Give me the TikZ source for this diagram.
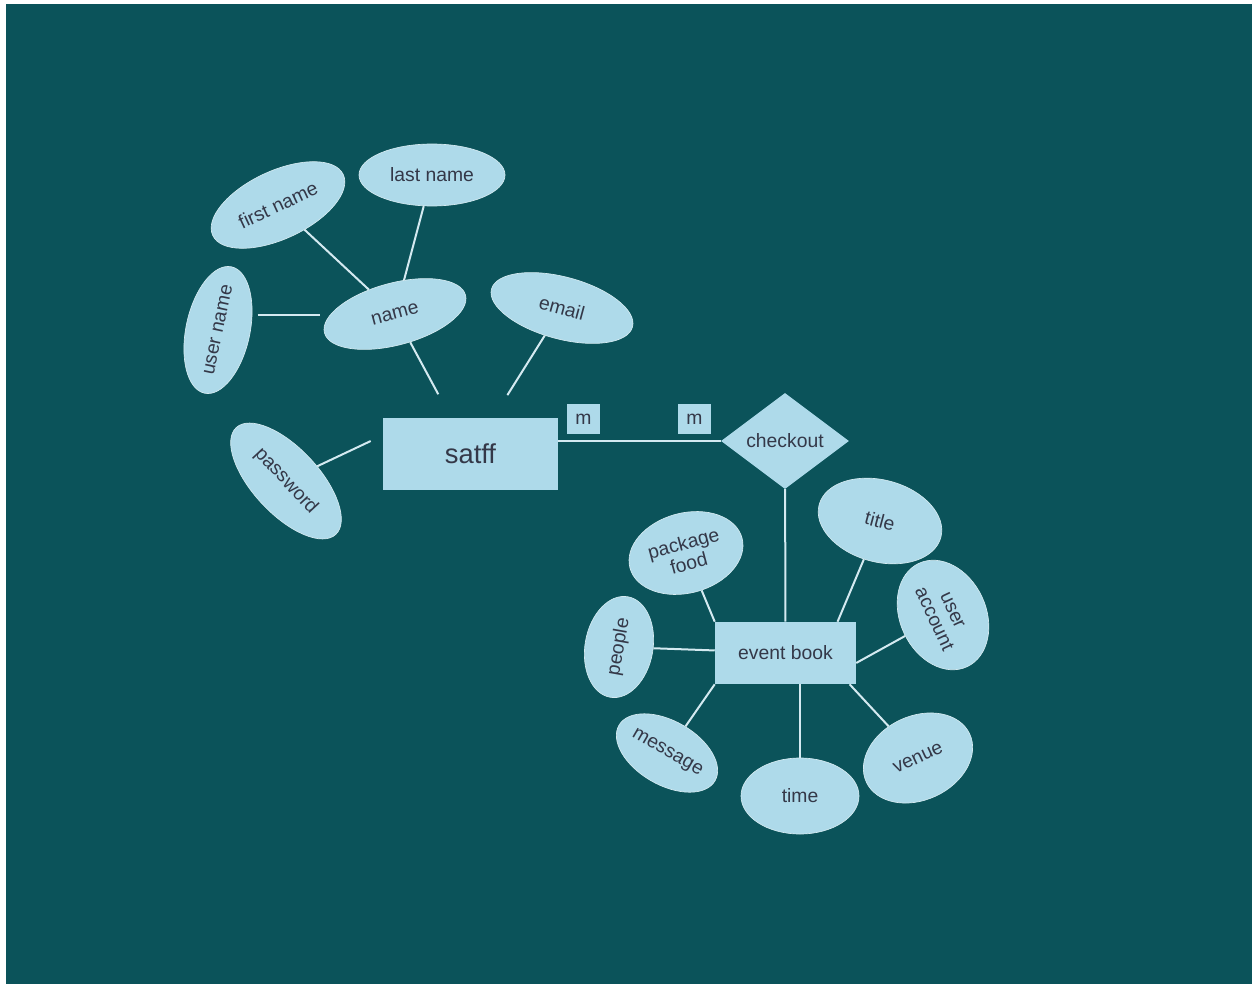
\documentclass[tikz,border=0pt]{standalone}
\usepackage{fontspec}
\setmainfont{Liberation Sans}
\usetikzlibrary{shapes.geometric}
\definecolor{bgteal}{RGB}{11,83,90}
\definecolor{erfill}{RGB}{174,218,234}
\definecolor{erline}{RGB}{212,234,241}
\definecolor{ertext}{RGB}{52,56,72}

\tikzset{
  attr/.style={ellipse, fill=erfill, draw=erline, line width=0.5pt, inner sep=0pt,
    text=ertext, align=center, font=\fontsize{14.5}{15.5}\selectfont},
  entity/.style={rectangle, fill=erfill, inner sep=0pt, text=ertext,
    font=\fontsize{14.5}{16}\selectfont},
  rel/.style={diamond, fill=erfill, inner sep=0pt, aspect=1.33, text=ertext,
    minimum width=96pt, minimum height=72pt, font=\fontsize{14.5}{16}\selectfont},
  card/.style={rectangle, fill=erfill, inner sep=0pt, text=ertext,
    minimum width=24.75pt, minimum height=22.5pt, font=\fontsize{14.5}{16}\selectfont},
  link/.style={draw=erline, line width=1.5pt}
}

\begin{document}
\begin{tikzpicture}[x=0.75pt,y=0.75pt,yscale=-1,xscale=1]
\useasboundingbox (0,0) rectangle (1252,984);
%Background
\fill[bgteal] (6,4) rectangle (1252,984);

%Entity: satff and its attributes
\node[attr, minimum width=108pt, minimum height=51pt, rotate=25] (fname) at (278,205) {first name};
\node[attr, minimum width=109.5pt, minimum height=46.5pt] (lname) at (432,175) {last name};
\node[attr, minimum width=93pt, minimum height=48pt, rotate=78] (uname) at (218,330) {user name};
\node[attr, minimum width=109.5pt, minimum height=46.5pt, rotate=15] (name) at (395,314) {name};
\node[attr, minimum width=109.5pt, minimum height=46.5pt, rotate=-15] (email) at (562,308) {email};
\node[attr, minimum width=109.5pt, minimum height=49.5pt, rotate=-47] (pass) at (286,481) {password};
\node[entity, minimum width=131.25pt, minimum height=54pt, font=\fontsize{20.5}{24}\selectfont] (staff) at (470.5,454) {satff};
\coordinate (nameW) at (320,315);

%Relationship
\node[card] (m1) at (583.5,419) {m};
\node[card] (m2) at (694.5,419) {m};
\node[rel] (check) at (785,441) {checkout};

%Entity: event book and its attributes
\node[entity, minimum width=105.75pt, minimum height=46.5pt] (event) at (785.5,653) {event book};
\node[attr, minimum width=87pt, minimum height=60pt, rotate=15] (food) at (686,553) {package\\food};
\node[attr, minimum width=94.5pt, minimum height=61.5pt, rotate=-15] (title) at (880,521) {title};
\node[attr, minimum width=85.5pt, minimum height=64.5pt, rotate=-65] (uacc) at (943,615) {user\\account};
\node[attr, minimum width=76.5pt, minimum height=51pt, rotate=80] (people) at (619,647) {people};
\node[attr, minimum width=81pt, minimum height=48pt, rotate=-30] (msg) at (667,753) {message};
\node[attr, minimum width=88.5pt, minimum height=57pt] (time) at (800,796) {time};
\node[attr, minimum width=85.5pt, minimum height=63pt, rotate=25] (venue) at (918,758) {venue};

%Connectors
\draw[link] (fname) -- (name);
\draw[link] (lname) -- (name);
\draw[link, shorten <=6pt] (uname.south |- nameW) -- (nameW);
\draw[link, shorten >=20pt] (name) -- (staff);
\draw[link, shorten >=20pt] (email) -- (staff);
\draw[link, shorten >=10pt] (pass) -- (staff.168);
\draw[link] (staff.east |- check.west) -- (check.west);
\draw[link] (check) -- (event);
\draw[link] (food) -- (event.north west);
\draw[link] (people) -- (event);
\draw[link] (msg) -- (event.south west);
\draw[link] (time) -- (time |- event.south);
\draw[link] (venue) -- (event.334);
\draw[link] (uacc) -- (event.352);
\draw[link] (title) -- (event.31);

\end{tikzpicture}
\end{document}
